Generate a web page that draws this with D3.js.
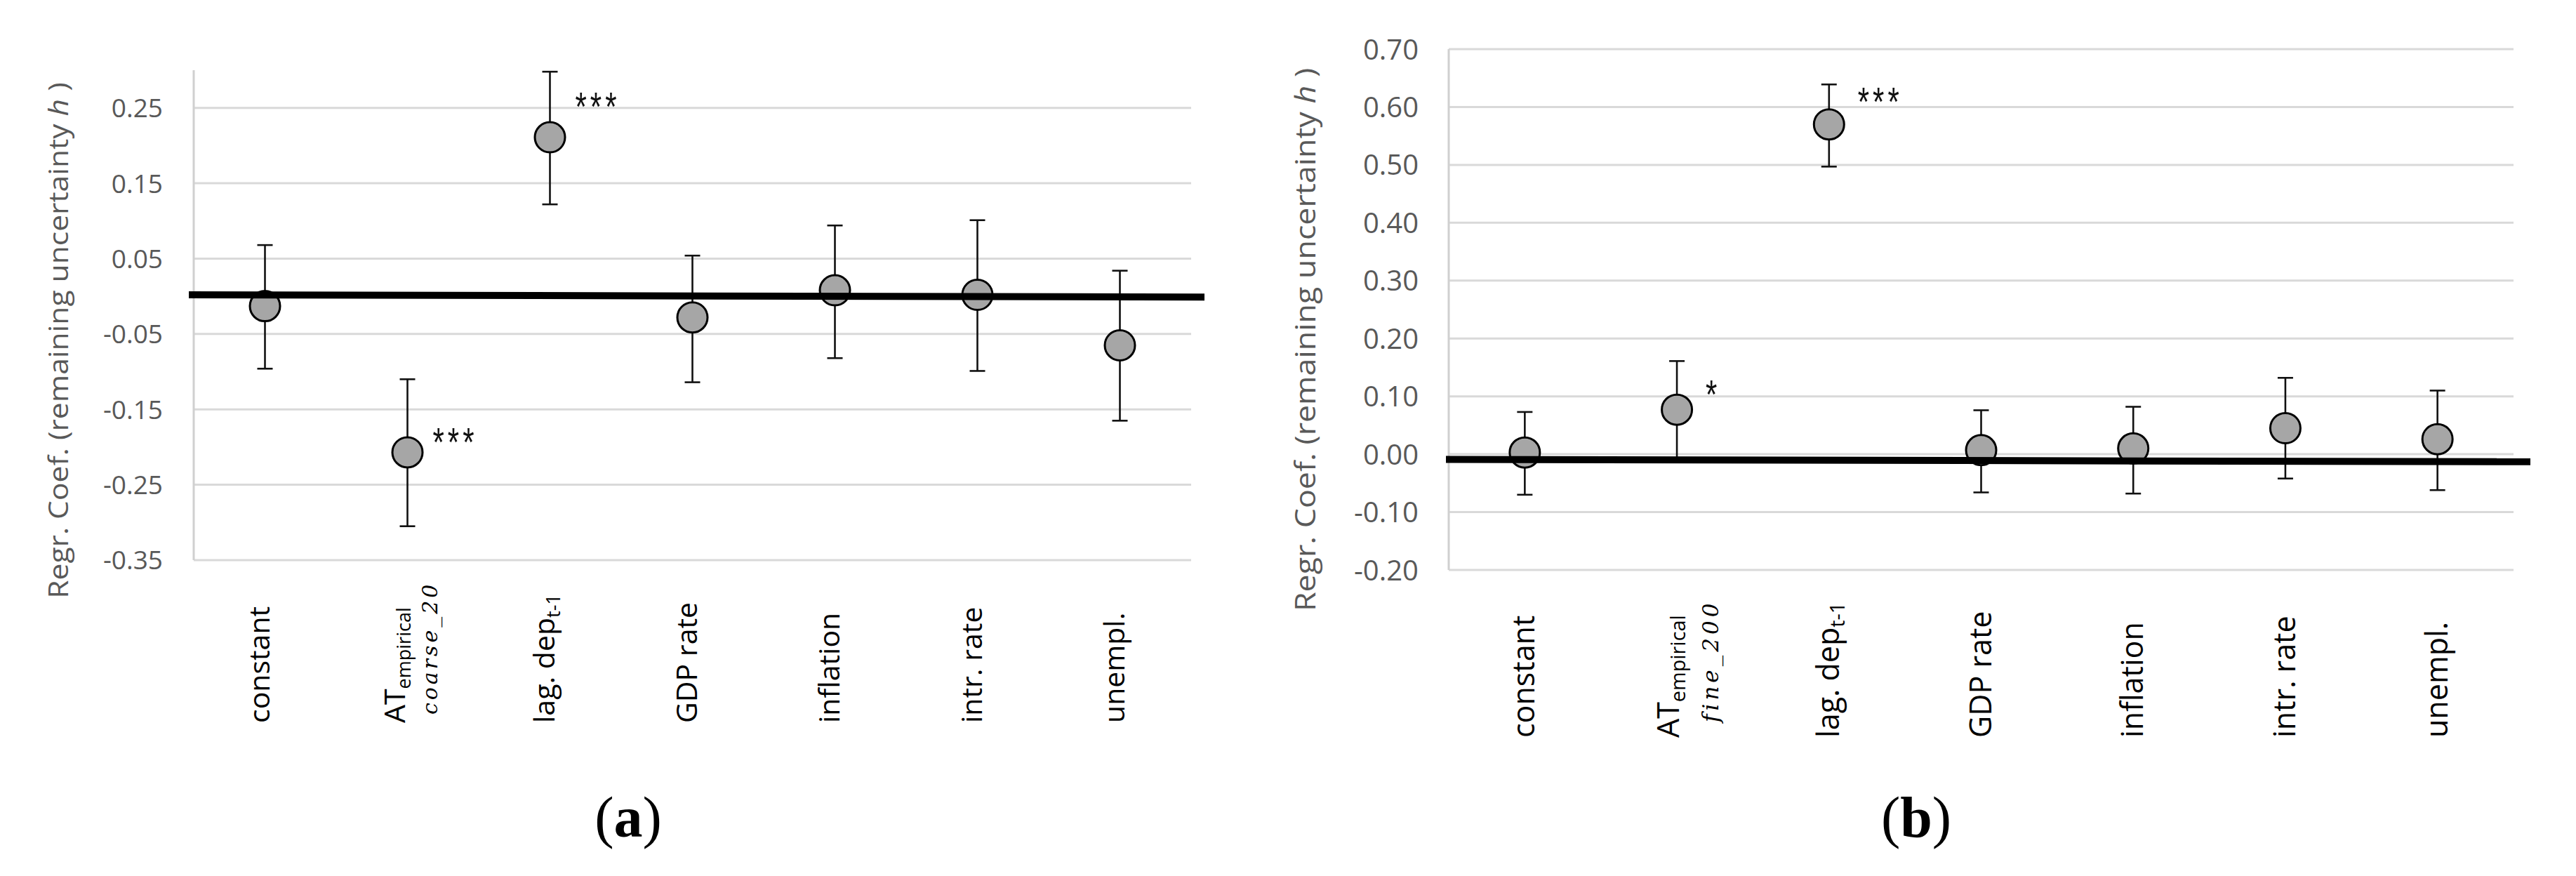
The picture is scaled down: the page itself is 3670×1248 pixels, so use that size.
<!DOCTYPE html>
<html><head><meta charset="utf-8">
<script src="https://cdn.jsdelivr.net/npm/d3@7"></script>
<style>body{margin:0;background:#fff} svg{display:block}</style>
</head><body>
<svg id="chart" width="3670" height="1248"></svg>
<script>
// ---------- data ----------
const categories = ["constant", "AT", "lag. dep", "GDP rate", "inflation", "intr. rate", "unempl."];
const subscripts = ["", "empirical", "t-1", "", "", "", ""];

// panel (a)
const coefA  = [-0.013, -0.207, 0.211, -0.028, 0.008, 0.002, -0.065];
const upperA = [ 0.068, -0.110, 0.298,  0.054, 0.094, 0.101,  0.034];
const lowerA = [-0.096, -0.305, 0.122, -0.114, -0.082, -0.099, -0.165];
const starsA = ["", "***", "***", "", "", "", ""];
const starYA = [null, -0.182, 0.264, null, null, null, null];
const ticksA = [-0.35, -0.25, -0.15, -0.05, 0.05, 0.15, 0.25];
const domainA = [-0.35, 0.30];
const zeroLineA = [0.002, -0.001];
const atLine2A = "coarse_20";

// panel (b)
const coefB  = [0.003, 0.077, 0.570, 0.007, 0.010, 0.045, 0.026];
const upperB = [0.073, 0.161, 0.639, 0.076, 0.082, 0.132, 0.110];
const lowerB = [-0.070, -0.008, 0.497, -0.066, -0.068, -0.042, -0.062];
const starsB = ["", "*", "***", "", "", "", ""];
const starYB = [null, 0.119, 0.625, null, null, null, null];
const ticksB = [-0.20, -0.10, 0.00, 0.10, 0.20, 0.30, 0.40, 0.50, 0.60, 0.70];
const domainB = [-0.20, 0.70];
const zeroLineB = [-0.009, -0.013];
const atLine2B = "fine_200";

const yTitle = "Regr. Coef. (remaining uncertainty ";
const yTitleItalic = "h";
const yTitleEnd = " )";

// ---------- drawing ----------
const svg = d3.select("#chart");
svg.append("rect").attr("width", 3670).attr("height", 1248).attr("fill", "#fff");

function panel(cfg) {
  const g = svg.append("g");
  const x = d3.scaleBand().domain(categories).range([cfg.left, cfg.right]);
  const y = d3.scaleLinear().domain(cfg.domain).range([cfg.bottom, cfg.top]);
  const cx = c => x(c) + x.bandwidth() / 2;
  const data = categories.map((c, i) => ({c, v: cfg.coef[i], hi: cfg.upper[i], lo: cfg.lower[i], star: cfg.stars[i], sy: cfg.starY[i]}));

  // gridlines
  g.append("g").selectAll("line").data(cfg.ticks).join("line")
    .attr("x1", cfg.left).attr("x2", cfg.right)
    .attr("y1", d => y(d)).attr("y2", d => y(d))
    .attr("stroke", "#d9d9d9").attr("stroke-width", 3);
  // vertical axis line
  g.append("line").attr("x1", cfg.left).attr("x2", cfg.left)
    .attr("y1", y(cfg.domain[1])).attr("y2", y(cfg.domain[0]))
    .attr("stroke", "#d0d0d0").attr("stroke-width", 3);

  // tick labels via d3 axis
  const ax = g.append("g").attr("transform", `translate(${cfg.tickRight},0)`)
    .call(d3.axisLeft(y).tickValues(cfg.ticks).tickFormat(d3.format(cfg.fmt)).tickSize(0).tickPadding(0));
  ax.select(".domain").remove();
  ax.selectAll("text").attr("font-family", "Open Sans, sans-serif").attr("font-size", cfg.tickFs)
    .attr("fill", "#595959").attr("dy", "0.35em").attr("x", 0)
    .text(d => d3.format(cfg.fmt)(d).replace("−", "-"));

  // y title
  const tt = g.append("text")
    .attr("transform", `translate(${cfg.titleX},${cfg.titleY}) scale(1,${cfg.titleStretch}) rotate(-90)`)
    .attr("text-anchor", "middle").attr("font-family", "Open Sans, sans-serif")
    .attr("font-size", cfg.titleFs).attr("fill", "#595959");
  tt.append("tspan").text(yTitle);
  tt.append("tspan").attr("font-style", "italic").text(yTitleItalic);
  tt.append("tspan").text(yTitleEnd);

  // error bars
  const eb = g.append("g").attr("stroke", "#111").attr("stroke-width", 2.6);
  eb.selectAll("line.v").data(data).join("line").attr("class", "v")
    .attr("x1", d => cx(d.c)).attr("x2", d => cx(d.c))
    .attr("y1", d => y(d.hi)).attr("y2", d => y(d.lo));
  eb.selectAll("line.hi").data(data).join("line").attr("class", "hi")
    .attr("x1", d => cx(d.c) - 11).attr("x2", d => cx(d.c) + 11)
    .attr("y1", d => y(d.hi)).attr("y2", d => y(d.hi));
  eb.selectAll("line.lo").data(data).join("line").attr("class", "lo")
    .attr("x1", d => cx(d.c) - 11).attr("x2", d => cx(d.c) + 11)
    .attr("y1", d => y(d.lo)).attr("y2", d => y(d.lo));

  // markers
  g.append("g").selectAll("circle").data(data).join("circle")
    .attr("cx", d => cx(d.c)).attr("cy", d => y(d.v)).attr("r", 21.5)
    .attr("fill", "#a6a6a6").attr("stroke", "#000").attr("stroke-width", 3);

  // significance stars
  const st = 1.35, sfs = 42;
  g.append("g").selectAll("text").data(data.filter(d => d.star)).join("text")
    .attr("transform", d => `translate(${cx(d.c) + cfg.starDx},${y(d.sy) + 0.58 * sfs * st}) scale(1,${st})`)
    .attr("font-family", "Liberation Sans, Arial, sans-serif").attr("font-size", sfs)
    .attr("letter-spacing", 5).attr("fill", "#111").text(d => d.star);

  // zero reference line (drawn on top)
  g.append("line").attr("x1", cfg.zeroX[0]).attr("x2", cfg.zeroX[1])
    .attr("y1", y(cfg.zero[0])).attr("y2", y(cfg.zero[1]))
    .attr("stroke", "#000").attr("stroke-width", 10);

  // category labels (rotated)
  const fs = cfg.catFs;
  categories.forEach((c, i) => {
    const isAT = c === "AT";
    const bx = cx(c) + cfg.catDx + (isAT ? cfg.atDx : 0);
    const lg = g.append("g")
      .attr("transform", `translate(${bx},${cfg.catStart}) rotate(-90)`);
    const t = lg.append("text").attr("font-family", "Open Sans, sans-serif")
      .attr("font-size", fs).attr("fill", "#000");
    t.append("tspan").text(c);
    if (subscripts[i]) {
      t.append("tspan").attr("font-size", fs * cfg.subScale).attr("dy", fs * 0.2).text(subscripts[i]);
    }
    if (isAT) {
      lg.append("text").attr("x", cfg.line2X).attr("y", cfg.line2Y)
        .attr("font-family", "DejaVu Serif, serif").attr("font-style", "italic")
        .attr("font-size", cfg.line2Fs).attr("letter-spacing", cfg.line2Ls).attr("fill", "#000")
        .text(cfg.atLine2);
    }
  });

  // panel caption
  const cap = g.append("text").attr("x", cfg.capX).attr("y", 1192).attr("text-anchor", "middle")
    .attr("font-family", "Liberation Serif, serif").attr("font-size", 82).attr("fill", "#000");
  cap.append("tspan").text("(");
  cap.append("tspan").attr("font-weight", "bold").text(cfg.letter);
  cap.append("tspan").text(")");
}

panel({
  left: 276, right: 1697, top: 100, bottom: 798, domain: domainA,
  coef: coefA, upper: upperA, lower: lowerA, stars: starsA, starY: starYA, ticks: ticksA,
  zero: zeroLineA, zeroX: [269, 1716], fmt: ".2f", tickRight: 232, tickFs: 37,
  titleX: 97, titleY: 485, titleFs: 38, titleStretch: 1.12,
  catStart: 1030, catDx: 6, catFs: 41, subScale: 0.66, atDx: -10,
  line2X: 12, line2Y: 46, line2Fs: 30, line2Ls: 4, atLine2: atLine2A,
  starDx: 36, capX: 895, letter: "a"
});
panel({
  left: 2064, right: 3581, top: 70, bottom: 812, domain: domainB,
  coef: coefB, upper: upperB, lower: lowerB, stars: starsB, starY: starYB, ticks: ticksB,
  zero: zeroLineB, zeroX: [2060, 3605], fmt: ".2f", tickRight: 2021, tickFs: 40,
  titleX: 1874, titleY: 484, titleFs: 40, titleStretch: 1.12,
  catStart: 1051, catDx: 14, catFs: 43, subScale: 0.67, atDx: -11,
  line2X: 22, line2Y: 56, line2Fs: 31, line2Ls: 5, atLine2: atLine2B,
  starDx: 41, capX: 2730, letter: "b"
});
</script>
</body></html>
